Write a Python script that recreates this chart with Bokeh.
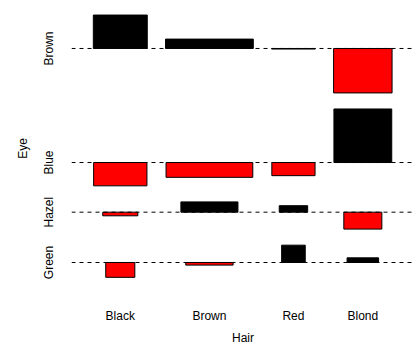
import numpy as np
from bokeh.plotting import figure
from bokeh.models import Range1d, FixedTicker, Span, ColumnDataSource, Title
from bokeh.embed import file_html
from bokeh.resources import INLINE

# Hair x Eye counts (HairEyeColor summed over Sex)
hair = ["Black", "Brown", "Red", "Blond"]
eye = ["Green", "Hazel", "Blue", "Brown"]          # bottom to top
counts_black = [5, 15, 20, 68]
counts_brown = [29, 54, 84, 119]
counts_red = [14, 14, 17, 26]
counts_blond = [16, 10, 94, 7]
pos_color = "black"
neg_color = "red"
space = 0.3

f = np.array([counts_black, counts_brown, counts_red, counts_blond], dtype=float)
e = np.outer(f.sum(1), f.sum(0)) / f.sum()
d = (f - e) / np.sqrt(e)
e = np.sqrt(e)
x_w = e.max(1)
y_h = d.max(0) - d.min(0)
x_delta = x_w.mean() * space
y_delta = y_h.mean() * space
xr = (0, x_w.sum() + len(hair) * x_delta)
yr = (0, y_h.sum() + len(eye) * y_delta)
x_r = np.cumsum(x_w + x_delta)
x_m = (np.concatenate([[0], x_r[:-1]]) + x_r) / 2
y_u = np.cumsum(y_h + y_delta)
y_m = y_u - np.maximum(d, 0).max(0) - y_delta / 2

left, right, bottom, top = [], [], [], []
colors = []
for i in range(len(hair)):
    for j in range(len(eye)):
        left.append(x_m[i] - e[i, j] / 2)
        right.append(x_m[i] + e[i, j] / 2)
        b, t = sorted([y_m[j], y_m[j] + d[i, j]])
        bottom.append(b)
        top.append(t)
        colors.append(pos_color if d[i, j] > 0 else neg_color)
src = ColumnDataSource(dict(left=left, right=right, bottom=bottom, top=top, color=colors))

W, H = 417, 349
BL, BR, BB = 71, 3, 53
FW, FH = W - BL - BR, H - BB
xs = xr[1] - xr[0]
ys = yr[1] - yr[0]
x0, x1 = xr[0] - 0.04 * xs, xr[1] + 0.04 * xs
y0, y1 = yr[0] - 0.04 * ys, yr[1] + 0.04 * ys
x1_vis = x0 + (x1 - x0) * FW / 342.4
y1_vis = y0 + (y1 - y0) * FH / 300.6

p = figure(width=W, height=H, output_backend="svg", toolbar_location=None,
           x_range=Range1d(x0, x1_vis), y_range=Range1d(y0, y1_vis),
           min_border_left=BL, min_border_right=BR, min_border_top=0, min_border_bottom=BB)
p.grid.visible = False
p.outline_line_color = None
p.background_fill_color = "white"
p.border_fill_color = "white"

p.quad(left="left", right="right", bottom="bottom", top="top", source=src,
       fill_color="color", line_color="black", line_width=1)

for yv in y_m:
    p.add_layout(Span(location=yv, dimension="width", line_color="black",
                      line_dash="4 4", line_width=1))

for ax in (p.xaxis[0], p.yaxis[0]):
    ax.axis_line_color = None
    ax.major_tick_line_color = None
    ax.minor_tick_line_color = None
    ax.major_tick_out = 0
    ax.major_tick_in = 0
    ax.major_label_text_font = "Liberation Sans"
    ax.major_label_text_font_size = "12px"
    ax.major_label_text_color = "black"
    ax.axis_label_text_font = "Liberation Sans"
    ax.axis_label_text_font_size = "12px"
    ax.axis_label_text_font_style = "normal"
    ax.axis_label_text_color = "black"

p.xaxis[0].ticker = FixedTicker(ticks=list(x_m))
p.xaxis[0].major_label_overrides = {float(v): n for v, n in zip(x_m, hair)}
p.xaxis[0].major_label_standoff = 12

p.add_layout(Title(text="Hair", align="center", text_font="Liberation Sans",
                   text_font_size="12px", text_font_style="normal",
                   text_color="black", standoff=7, offset=0), "below")

p.yaxis[0].ticker = FixedTicker(ticks=list(y_m))
p.yaxis[0].major_label_overrides = {float(v): n for v, n in zip(y_m, eye)}
p.yaxis[0].major_label_orientation = "vertical"
p.yaxis[0].axis_label = "Eye"
p.yaxis[0].major_label_standoff = 15
p.yaxis[0].axis_label_standoff = 10

open("out.html", "w").write(file_html(p, INLINE))
